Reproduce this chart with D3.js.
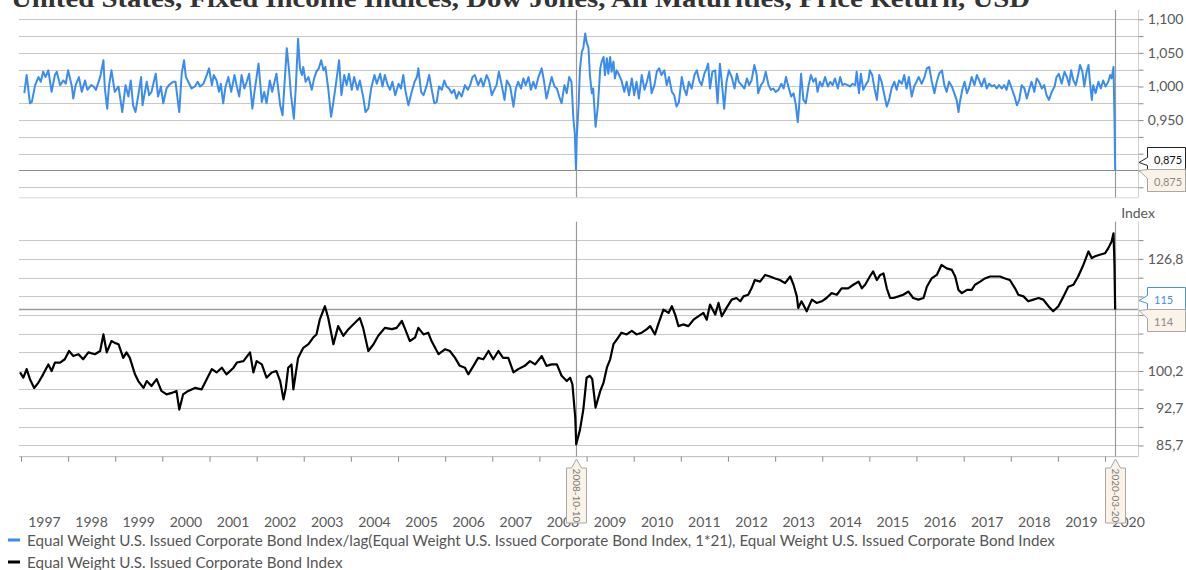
<!DOCTYPE html>
<html>
<head>
<meta charset="utf-8">
<script src="https://cdn.jsdelivr.net/npm/d3@7"></script>
<style>
  body { margin: 0; background: #fff; }
  svg { display: block; font-family: Lato, "Open Sans", sans-serif; }
</style>
</head>
<body>
<svg id="chart" width="1186" height="570"></svg>
<script>
var chartTitle = "United States, Fixed Income Indices, Dow Jones, All Maturities, Price Return, USD";
var legendLabels = [
  "Equal Weight U.S. Issued Corporate Bond Index/lag(Equal Weight U.S. Issued Corporate Bond Index, 1*21), Equal Weight U.S. Issued Corporate Bond Index",
  "Equal Weight U.S. Issued Corporate Bond Index"
];
var yearLabels = ["1997","1998","1999","2000","2001","2002","2003","2004","2005","2006","2007","2008",
  "2009","2010","2011","2012","2013","2014","2015","2016","2017","2018","2019","2020"];
var ratioTicks = [0.850, 0.875, 0.900, 0.925, 0.950, 0.975, 1.000, 1.025, 1.050, 1.075, 1.100];
var indexTicks = [85.7, 89.1, 92.7, 96.4, 100.2, 104.2, 108.4, 112.7, 117.2, 121.9, 126.8, 131.9];
var eventDates = ["2008-10-10", "2020-03-20"];
var lastRatio = 0.875;
var lastIndex = 114;
var ratioFlagOnIndex = 115;

// [decimal year, value]
var ratioSeries = [
[1997.07,0.990],[1997.12,1.017],[1997.19,0.975],[1997.23,0.977],[1997.30,1.002],[1997.37,1.014],[1997.42,1.007],
[1997.47,1.022],[1997.52,1.014],[1997.58,1.024],[1997.65,0.992],[1997.72,1.017],[1997.76,1.022],[1997.83,1.002],
[1997.90,1.009],[1997.95,1.004],[1998.00,1.024],[1998.08,1.000],[1998.11,0.982],[1998.16,1.002],[1998.23,1.014],
[1998.29,0.992],[1998.36,1.009],[1998.41,0.995],[1998.49,1.002],[1998.54,1.000],[1998.59,0.995],[1998.68,1.014],
[1998.75,1.039],[1998.78,0.997],[1998.83,0.967],[1998.87,1.002],[1998.92,1.024],[1998.99,0.992],[1999.07,1.000],
[1999.15,0.962],[1999.22,1.002],[1999.28,0.985],[1999.33,1.009],[1999.38,0.972],[1999.43,0.962],[1999.49,0.987],
[1999.55,1.014],[1999.58,0.972],[1999.67,1.007],[1999.72,0.987],[1999.77,0.992],[1999.86,1.019],[1999.91,0.985],
[1999.97,1.000],[2000.02,0.975],[2000.09,0.997],[2000.14,1.002],[2000.23,1.007],[2000.28,1.007],[2000.34,0.972],
[2000.36,0.962],[2000.41,1.019],[2000.46,1.039],[2000.50,1.014],[2000.55,1.007],[2000.62,0.997],[2000.69,1.000],
[2000.75,1.007],[2000.80,1.000],[2000.87,1.004],[2000.94,1.017],[2000.99,1.027],[2001.05,1.002],[2001.09,1.017],
[2001.15,1.009],[2001.20,0.992],[2001.24,1.004],[2001.29,0.975],[2001.34,1.000],[2001.40,1.014],[2001.46,0.992],
[2001.53,1.017],[2001.58,1.000],[2001.63,0.985],[2001.68,1.017],[2001.74,0.997],[2001.79,1.007],[2001.84,1.019],
[2001.91,0.967],[2001.96,0.995],[2002.04,1.034],[2002.11,0.977],[2002.16,0.992],[2002.21,0.975],[2002.28,1.009],
[2002.33,0.992],[2002.42,1.019],[2002.50,0.972],[2002.55,0.957],[2002.64,1.057],[2002.69,1.022],[2002.73,0.987],
[2002.79,0.952],[2002.83,0.997],[2002.88,1.071],[2002.92,1.027],[2002.96,1.017],[2002.99,1.029],[2003.04,1.007],
[2003.10,1.014],[2003.17,0.995],[2003.22,1.012],[2003.27,1.022],[2003.32,1.027],[2003.37,1.039],[2003.42,1.024],
[2003.46,1.029],[2003.52,0.997],[2003.58,0.955],[2003.63,0.977],[2003.68,1.002],[2003.75,1.039],[2003.80,0.987],
[2003.86,1.017],[2003.91,1.002],[2003.96,1.019],[2004.02,0.995],[2004.07,1.014],[2004.14,0.995],[2004.19,1.009],
[2004.26,0.985],[2004.31,0.962],[2004.37,0.967],[2004.43,0.997],[2004.50,1.017],[2004.55,1.004],[2004.62,1.019],
[2004.67,1.000],[2004.72,1.017],[2004.78,1.002],[2004.83,0.995],[2004.88,1.007],[2004.94,0.987],[2005.01,1.004],
[2005.06,0.997],[2005.11,1.017],[2005.16,0.992],[2005.22,0.972],[2005.29,0.992],[2005.35,1.007],[2005.40,1.014],
[2005.43,1.027],[2005.49,0.992],[2005.54,0.987],[2005.61,1.002],[2005.66,1.017],[2005.71,0.997],[2005.77,0.975],
[2005.82,0.977],[2005.87,1.000],[2005.93,0.995],[2005.98,1.009],[2006.03,1.000],[2006.08,0.997],[2006.14,0.990],
[2006.19,0.995],[2006.24,0.982],[2006.29,0.992],[2006.35,0.985],[2006.42,1.002],[2006.48,0.995],[2006.53,1.002],
[2006.58,1.014],[2006.63,1.017],[2006.70,1.002],[2006.76,1.012],[2006.81,1.000],[2006.88,1.017],[2006.93,1.009],
[2006.99,0.987],[2007.04,0.995],[2007.09,1.002],[2007.14,1.022],[2007.20,1.002],[2007.26,0.980],[2007.31,1.009],
[2007.38,1.000],[2007.45,0.970],[2007.50,0.997],[2007.55,1.007],[2007.61,0.997],[2007.66,1.012],[2007.71,1.002],
[2007.77,1.014],[2007.82,0.995],[2007.87,1.007],[2007.92,0.997],[2007.98,1.014],[2008.05,1.027],[2008.10,1.007],
[2008.15,0.982],[2008.20,0.997],[2008.26,1.014],[2008.32,1.000],[2008.37,0.997],[2008.42,0.985],[2008.47,0.975],
[2008.53,1.002],[2008.58,0.990],[2008.63,1.014],[2008.68,1.007],[2008.72,0.952],[2008.75,0.930],[2008.775,0.876],
[2008.79,0.923],[2008.83,0.972],[2008.86,1.027],[2008.90,1.052],[2008.93,1.057],[2008.97,1.079],[2009.00,1.066],
[2009.04,1.057],[2009.07,1.017],[2009.11,0.990],[2009.14,0.997],[2009.19,0.940],[2009.24,0.972],[2009.29,1.027],
[2009.32,1.037],[2009.36,1.044],[2009.39,1.017],[2009.43,1.042],[2009.46,1.019],[2009.50,1.044],[2009.53,1.022],
[2009.57,1.037],[2009.60,1.012],[2009.64,1.024],[2009.69,1.017],[2009.74,1.009],[2009.80,0.992],[2009.85,1.007],
[2009.90,0.987],[2009.96,1.012],[2010.01,0.987],[2010.06,1.007],[2010.11,0.982],[2010.17,1.017],[2010.23,0.995],
[2010.28,1.007],[2010.33,1.022],[2010.38,0.990],[2010.44,1.002],[2010.49,1.022],[2010.54,1.027],[2010.59,1.017],
[2010.65,1.024],[2010.70,1.002],[2010.75,1.014],[2010.81,0.992],[2010.86,0.987],[2010.91,0.970],[2010.96,0.977],
[2011.02,1.014],[2011.07,0.997],[2011.12,0.987],[2011.17,1.007],[2011.23,0.997],[2011.29,1.017],[2011.34,1.024],
[2011.39,1.009],[2011.44,1.002],[2011.50,1.019],[2011.55,1.027],[2011.58,1.034],[2011.62,0.997],[2011.67,1.022],
[2011.73,1.024],[2011.78,0.975],[2011.83,1.034],[2011.87,1.007],[2011.92,0.967],[2011.97,1.007],[2012.02,1.024],
[2012.08,1.014],[2012.14,0.997],[2012.19,1.019],[2012.23,1.007],[2012.29,1.002],[2012.35,0.997],[2012.40,1.012],
[2012.45,1.002],[2012.50,1.009],[2012.56,1.032],[2012.61,1.017],[2012.64,0.990],[2012.70,1.002],[2012.75,1.007],
[2012.80,1.022],[2012.86,1.002],[2012.91,0.995],[2012.96,0.997],[2013.01,0.992],[2013.07,0.995],[2013.13,1.004],
[2013.18,0.997],[2013.23,1.014],[2013.28,1.000],[2013.34,0.985],[2013.39,0.990],[2013.44,0.972],[2013.48,0.947],
[2013.51,0.972],[2013.55,1.019],[2013.60,0.980],[2013.65,0.975],[2013.71,1.002],[2013.76,1.017],[2013.81,1.007],
[2013.86,1.012],[2013.90,0.992],[2013.95,1.007],[2014.00,1.000],[2014.06,1.014],[2014.12,1.000],[2014.17,1.007],
[2014.22,1.002],[2014.27,1.012],[2014.33,0.997],[2014.38,1.014],[2014.43,1.002],[2014.48,1.004],[2014.54,1.002],
[2014.59,1.000],[2014.64,1.004],[2014.70,1.002],[2014.73,1.022],[2014.78,0.990],[2014.82,1.019],[2014.87,0.995],
[2014.92,1.002],[2014.98,1.009],[2015.01,1.024],[2015.06,1.017],[2015.11,0.997],[2015.16,0.980],[2015.21,1.017],
[2015.26,1.007],[2015.32,0.987],[2015.37,0.970],[2015.42,0.980],[2015.47,0.997],[2015.53,1.007],[2015.58,0.995],
[2015.63,1.009],[2015.69,1.004],[2015.74,1.017],[2015.79,0.997],[2015.84,1.014],[2015.90,0.985],[2015.95,1.000],
[2016.00,1.007],[2016.05,1.014],[2016.11,1.004],[2016.17,1.014],[2016.22,1.027],[2016.27,1.029],[2016.32,1.009],
[2016.38,0.990],[2016.43,1.007],[2016.48,1.019],[2016.54,1.024],[2016.59,1.002],[2016.64,0.992],[2016.69,1.007],
[2016.75,1.000],[2016.80,0.990],[2016.85,0.980],[2016.89,0.962],[2016.92,0.977],[2016.97,0.995],[2017.02,1.007],
[2017.07,0.990],[2017.11,0.997],[2017.17,1.014],[2017.23,1.002],[2017.28,1.017],[2017.33,1.009],[2017.38,1.000],
[2017.44,1.012],[2017.49,0.997],[2017.54,1.004],[2017.60,1.000],[2017.65,1.002],[2017.70,0.997],[2017.75,1.002],
[2017.81,0.997],[2017.86,1.002],[2017.91,0.995],[2017.96,1.009],[2018.02,0.997],[2018.08,0.985],[2018.13,0.972],
[2018.18,0.980],[2018.23,1.002],[2018.29,0.997],[2018.34,0.982],[2018.39,0.995],[2018.44,1.007],[2018.50,0.992],
[2018.55,1.012],[2018.60,1.007],[2018.66,0.997],[2018.71,1.002],[2018.76,0.987],[2018.81,0.980],[2018.87,0.992],
[2018.93,1.000],[2018.97,1.014],[2019.02,1.019],[2019.08,1.004],[2019.14,1.022],[2019.19,1.014],[2019.24,1.002],
[2019.28,1.024],[2019.33,1.009],[2019.38,1.002],[2019.42,1.014],[2019.47,1.032],[2019.52,1.022],[2019.56,1.000],
[2019.61,1.022],[2019.65,1.032],[2019.68,1.007],[2019.72,0.980],[2019.75,1.002],[2019.80,0.990],[2019.86,1.007],
[2019.91,0.997],[2019.96,1.009],[2020.01,1.000],[2020.07,1.007],[2020.11,1.017],[2020.14,1.012],[2020.18,1.029],
[2020.20,0.957],[2020.215,0.875]
];

var indexSeries = [
[1996.98,99.9],[1997.05,98.8],[1997.12,100.6],[1997.19,98.5],[1997.28,96.7],[1997.37,97.8],[1997.47,99.5],
[1997.58,101.6],[1997.65,100.2],[1997.72,102.0],[1997.83,102.0],[1997.93,102.7],[1998.02,104.5],[1998.11,103.4],
[1998.22,103.8],[1998.32,102.7],[1998.43,104.2],[1998.57,103.8],[1998.68,104.5],[1998.75,108.2],[1998.82,104.2],
[1998.92,106.7],[1998.99,106.3],[1999.07,106.0],[1999.17,103.0],[1999.24,104.2],[1999.31,103.0],[1999.42,99.5],
[1999.49,98.1],[1999.60,96.7],[1999.67,98.1],[1999.77,97.1],[1999.88,98.5],[1999.98,96.1],[2000.09,95.4],
[2000.20,95.7],[2000.30,96.1],[2000.36,92.4],[2000.44,95.4],[2000.55,96.1],[2000.69,96.7],[2000.83,96.4],
[2000.94,98.5],[2001.05,100.6],[2001.15,99.9],[2001.26,100.9],[2001.36,99.5],[2001.51,100.9],[2001.58,102.0],
[2001.72,102.3],[2001.86,104.2],[2001.93,99.9],[2002.00,102.3],[2002.11,101.6],[2002.21,98.8],[2002.32,99.9],
[2002.42,100.2],[2002.50,98.1],[2002.57,94.4],[2002.62,96.7],[2002.67,100.9],[2002.74,101.6],[2002.78,96.4],
[2002.88,103.0],[2002.99,105.2],[2003.10,106.0],[2003.20,107.5],[2003.27,108.2],[2003.34,111.6],[2003.45,114.8],
[2003.52,112.0],[2003.63,106.0],[2003.73,110.1],[2003.84,107.9],[2003.95,109.4],[2004.05,110.5],[2004.19,112.0],
[2004.26,109.7],[2004.37,104.5],[2004.48,106.0],[2004.58,107.9],[2004.72,109.7],[2004.87,109.4],[2004.97,109.7],
[2005.08,111.3],[2005.15,109.4],[2005.25,106.7],[2005.36,107.5],[2005.43,109.7],[2005.54,108.2],[2005.64,108.6],
[2005.71,106.7],[2005.86,103.8],[2006.00,104.9],[2006.10,104.5],[2006.21,103.0],[2006.31,101.3],[2006.42,100.9],
[2006.49,99.5],[2006.60,101.3],[2006.70,103.0],[2006.81,102.7],[2006.92,104.5],[2007.02,102.7],[2007.13,104.5],
[2007.23,103.0],[2007.34,103.0],[2007.45,99.9],[2007.55,100.6],[2007.69,101.3],[2007.80,102.3],[2007.91,101.6],
[2008.05,103.4],[2008.15,101.3],[2008.26,101.6],[2008.37,101.6],[2008.47,99.2],[2008.58,98.1],[2008.65,98.8],
[2008.70,97.4],[2008.76,90.8],[2008.78,85.9],[2008.86,88.6],[2008.93,92.4],[2009.00,98.8],[2009.07,99.2],
[2009.12,98.5],[2009.19,92.8],[2009.29,96.1],[2009.36,97.8],[2009.43,100.9],[2009.50,102.7],[2009.57,106.0],
[2009.67,107.5],[2009.74,108.6],[2009.85,108.2],[2009.96,109.0],[2010.06,108.2],[2010.17,108.6],[2010.28,109.4],
[2010.35,110.1],[2010.45,108.2],[2010.52,110.5],[2010.63,114.0],[2010.74,113.2],[2010.81,114.8],[2010.88,112.8],
[2010.95,110.1],[2011.05,110.5],[2011.16,110.1],[2011.27,111.6],[2011.37,112.4],[2011.48,113.2],[2011.55,111.6],
[2011.62,115.2],[2011.73,112.8],[2011.80,115.6],[2011.87,112.4],[2011.97,114.4],[2012.08,116.4],[2012.18,116.8],
[2012.26,116.0],[2012.33,117.2],[2012.43,117.6],[2012.50,119.2],[2012.57,121.3],[2012.68,120.9],[2012.79,122.6],
[2012.89,122.2],[2013.00,121.7],[2013.10,121.3],[2013.21,120.5],[2013.32,122.2],[2013.39,120.1],[2013.46,117.2],
[2013.49,114.4],[2013.56,116.0],[2013.67,113.6],[2013.78,116.4],[2013.88,115.6],[2013.99,116.0],[2014.09,116.8],
[2014.20,118.0],[2014.31,117.6],[2014.41,119.2],[2014.55,119.2],[2014.66,120.1],[2014.77,120.9],[2014.84,119.2],
[2014.91,120.1],[2015.01,122.2],[2015.08,123.5],[2015.16,121.3],[2015.23,122.6],[2015.30,123.0],[2015.37,119.2],
[2015.44,116.8],[2015.51,116.8],[2015.62,117.2],[2015.72,117.6],[2015.83,118.4],[2015.93,116.8],[2016.04,116.4],
[2016.15,116.8],[2016.22,119.6],[2016.32,121.7],[2016.43,122.6],[2016.53,125.2],[2016.64,124.3],[2016.75,123.9],
[2016.82,122.2],[2016.89,118.8],[2016.96,118.0],[2017.07,118.8],[2017.17,118.8],[2017.24,120.1],[2017.35,120.9],
[2017.45,121.7],[2017.56,122.2],[2017.67,122.2],[2017.77,122.2],[2017.88,121.7],[2017.98,121.3],[2018.09,119.2],
[2018.16,117.6],[2018.27,117.2],[2018.37,116.0],[2018.48,116.4],[2018.59,116.8],[2018.69,116.4],[2018.80,114.8],
[2018.90,113.6],[2019.01,114.8],[2019.12,117.2],[2019.22,119.6],[2019.33,120.1],[2019.43,122.2],[2019.54,125.2],
[2019.65,128.8],[2019.72,127.0],[2019.79,127.5],[2019.89,127.9],[2020.00,128.3],[2020.07,129.7],[2020.14,131.5],
[2020.18,133.8],[2020.20,125.6],[2020.215,114.0]
];

var L = 19, R = 1138;
var topPanel = [10, 197.3], botPanel = [221.7, 456.7];

var svg = d3.select("#chart");
var loc = d3.formatLocale({decimal: ",", thousands: " ", grouping: [3], currency: ["", ""]});
var fmtRatio = loc.format(".3f"), fmtIndex = loc.format(".1f");

function toDate(t) {
  var y = Math.floor(t), a = new Date(y, 0, 1), b = new Date(y + 1, 0, 1);
  return new Date(+a + (t - y) * (b - a));
}

var x = d3.scaleTime().domain([new Date(1997, 0, 1), new Date(2020, 0, 1)]).range([21, 1105]);
var yTop = d3.scaleLinear().domain([0.8351, 1.1138]).range([topPanel[1], topPanel[0]]);
var yBot = d3.scaleLog().domain([83.7, 137.1]).range([botPanel[1], botPanel[0]]);

// title (mostly cut off at the top)
svg.append("text")
  .attr("x", 11).attr("y", 7)
  .attr("font-family", "'Liberation Serif', 'DejaVu Serif', serif")
  .attr("font-weight", "bold").attr("font-size", 26)
  .attr("fill", "#333")
  .attr("textLength", 1019).attr("lengthAdjust", "spacingAndGlyphs")
  .text(chartTitle);

// clip paths
var defs = svg.append("defs");
defs.append("clipPath").attr("id", "clipTop").append("rect")
  .attr("x", L).attr("y", topPanel[0]).attr("width", R - L).attr("height", topPanel[1] - topPanel[0]);
defs.append("clipPath").attr("id", "clipBot").append("rect")
  .attr("x", L).attr("y", botPanel[0]).attr("width", R - L).attr("height", botPanel[1] - botPanel[0]);

function gridlines(scale, ticks) {
  svg.append("g").selectAll("line").data(ticks).enter().append("line")
    .attr("x1", L).attr("x2", R)
    .attr("y1", function (d) { return Math.round(scale(d)) + 0.5; })
    .attr("y2", function (d) { return Math.round(scale(d)) + 0.5; })
    .attr("stroke", "#c8c8c8").attr("stroke-width", 1);
}
gridlines(yTop, ratioTicks);
gridlines(yBot, indexTicks);

// panel edges
svg.append("line").attr("x1", L).attr("x2", R).attr("y1", topPanel[1] + 0.5).attr("y2", topPanel[1] + 0.5)
  .attr("stroke", "#d8d8d8");
svg.append("line").attr("x1", L).attr("x2", R).attr("y1", botPanel[1]).attr("y2", botPanel[1])
  .attr("stroke", "#b8b8b8");

// right axes; labels that sit under the value callouts are not shown (as in the source)
function rightAxis(scale, ticks, fmt, panel, coveredY) {
  var g = svg.append("g").attr("transform", "translate(" + (R + 0.5) + ",0)")
    .call(d3.axisRight(scale).tickValues(ticks).tickSize(5).tickSizeOuter(0)
      .tickFormat(function (d, i) {
        var yy = scale(d);
        if (i % 2 !== 0 || (yy > coveredY[0] && yy < coveredY[1])) return "";
        return fmt(d);
      }));
  g.select(".domain").attr("stroke", "#d0d0d0").attr("d", "M0," + panel[0] + "V" + panel[1]);
  g.selectAll(".tick line").attr("stroke", "#8a8a8a");
  g.selectAll(".tick text").attr("x", 45).attr("text-anchor", "end")
    .attr("fill", "#595959").attr("font-size", 14).attr("font-family", "Lato, sans-serif");
}
var ymT = Math.round(yTop(lastRatio)) + 0.5;
var ymB = Math.round(yBot(lastIndex)) + 0.5;
rightAxis(yTop, ratioTicks, fmtRatio, topPanel, [ymT - 26, ymT + 24]);
rightAxis(yBot, indexTicks, fmtIndex, botPanel, [ymB - 26, ymB + 24]);

svg.append("text").attr("x", 1138).attr("y", 212).attr("text-anchor", "middle")
  .attr("dominant-baseline", "central").attr("fill", "#595959").attr("font-size", 14)
  .text("Index");

// bottom time axis
var yearStarts = yearLabels.map(function (s) { return new Date(+s, 0, 1); });
var xAxisG = svg.append("g").attr("transform", "translate(0," + botPanel[1] + ")")
  .call(d3.axisBottom(x).tickValues(yearStarts).tickSize(5).tickFormat(""));
xAxisG.select(".domain").remove();
xAxisG.selectAll(".tick line").attr("stroke", "#8a8a8a");

svg.append("g").selectAll("text").data(yearLabels).enter().append("text")
  .attr("x", function (d) { return x(new Date(+d, 6, 2)); })
  .attr("y", 521)
  .attr("text-anchor", "middle").attr("dominant-baseline", "central")
  .attr("fill", "#595959").attr("font-size", 14)
  .text(function (d) { return d; });

// last value lines
svg.append("line").attr("x1", L).attr("x2", R)
  .attr("y1", yTop(lastRatio)).attr("y2", yTop(lastRatio))
  .attr("stroke", "#8c8c8c").attr("stroke-width", 1.2);
svg.append("line").attr("x1", L).attr("x2", R)
  .attr("y1", yBot(lastIndex)).attr("y2", yBot(lastIndex))
  .attr("stroke", "#9c9c9c").attr("stroke-width", 1.6);

// event verticals
var parseDay = d3.timeParse("%Y-%m-%d");
eventDates.forEach(function (s) {
  var xm = Math.round(x(parseDay(s))) + 0.5;
  [topPanel, botPanel].forEach(function (p) {
    svg.append("line").attr("x1", xm).attr("x2", xm).attr("y1", p[0]).attr("y2", p[1])
      .attr("stroke", "#9a9a9a").attr("stroke-width", 1.2);
  });
});

// series
var lineTop = d3.line()
  .x(function (d) { return x(toDate(d[0])); })
  .y(function (d) { return yTop(d[1]); });
var lineBot = d3.line()
  .x(function (d) { return x(toDate(d[0])); })
  .y(function (d) { return yBot(d[1]); });

svg.append("path").datum(ratioSeries).attr("clip-path", "url(#clipTop)")
  .attr("d", lineTop).attr("fill", "none")
  .attr("stroke", "#3a8cf0").attr("stroke-width", 2).attr("stroke-linejoin", "round");
svg.append("path").datum(indexSeries).attr("clip-path", "url(#clipBot)")
  .attr("d", lineBot).attr("fill", "none")
  .attr("stroke", "#000").attr("stroke-width", 2.2).attr("stroke-linejoin", "round");

// callout boxes on the right
function callout(boxTop, tipY, joinTop, joinBot, fill, stroke, label, color) {
  var bx = 1147.5, ex = 1185.5, h = 22;
  var d = "M1139," + tipY + "L" + bx + "," + joinTop + "L" + bx + "," + boxTop +
    "L" + ex + "," + boxTop + "L" + ex + "," + (boxTop + h) + "L" + bx + "," + (boxTop + h) +
    "L" + bx + "," + joinBot + "Z";
  svg.append("path").attr("d", d).attr("fill", fill).attr("stroke", stroke).attr("stroke-width", 1);
  svg.append("text").attr("x", 1154).attr("y", boxTop + h / 2 + 0.5)
    .attr("dominant-baseline", "central").attr("font-size", 11).attr("fill", color)
    .text(label);
}
var beige = "#fbf2e8";
callout(ymT - 23, ymT - 8, ymT - 13, ymT - 5, "#fff", "#222", fmtRatio(lastRatio), "#111");
callout(ymT - 1, ymT, ymT - 1, ymT + 8, beige, "#a8a8a8", fmtRatio(lastRatio), "#8a8a8a");
callout(ymB - 23, ymB - 10, ymB - 15, ymB - 7, "#fff", "#4a90e2", String(ratioFlagOnIndex), "#3a8cf0");
callout(ymB - 1, ymB, ymB - 1, ymB + 8, beige, "#a8a8a8", String(lastIndex), "#8a8a8a");

// date callouts under the axis
eventDates.forEach(function (s) {
  var xm = Math.round(x(parseDay(s))) + 0.5;
  var top = 468, bot = 523;
  var d = "M" + xm + ",459L" + (xm + 5) + "," + top + "L" + (xm + 10) + "," + top +
    "L" + (xm + 10) + "," + bot + "L" + (xm - 10) + "," + bot + "L" + (xm - 10) + "," + top +
    "L" + (xm - 5) + "," + top + "Z";
  svg.append("path").attr("d", d).attr("fill", beige).attr("stroke", "#a8a8a8");
  svg.append("text").attr("transform", "translate(" + xm + "," + ((top + bot) / 2) + ") rotate(90)")
    .attr("text-anchor", "middle").attr("dominant-baseline", "central")
    .attr("font-size", 10).attr("fill", "#7a7a7a")
    .text(s);
});

// legend
var legendColors = ["#3a8cf0", "#000"];
var legendY = [540, 562];
var legendTexts = [];
legendLabels.forEach(function (t, i) {
  svg.append("rect").attr("x", 8).attr("y", legendY[i] - 1.5).attr("width", 12).attr("height", 3)
    .attr("fill", legendColors[i]);
  legendTexts.push(svg.append("text").attr("x", 27).attr("y", legendY[i])
    .attr("dominant-baseline", "central").attr("font-size", 14).attr("fill", "#555")
    .text(t));
});
// fit the legend font to the reference width
var w0 = legendTexts[0].node().getComputedTextLength();
var fs = 14 * 1029 / w0;
legendTexts.forEach(function (t) { t.attr("font-size", fs); });
</script>
</body>
</html>
